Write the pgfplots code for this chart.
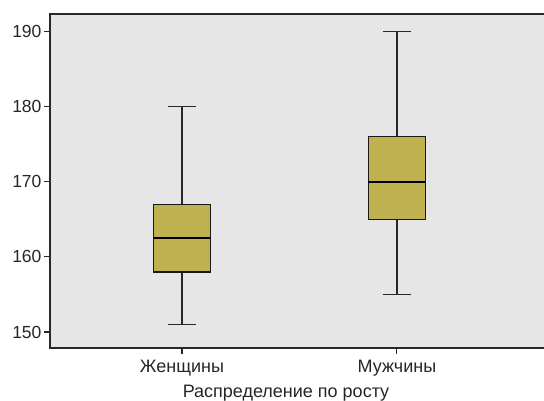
\documentclass[border=0pt]{standalone}
\usepackage{pgfplots}
\pgfplotsset{compat=1.18}
\usepgfplotslibrary{statistics}
\usepackage{fontspec}
\setmainfont{Liberation Sans}
\definecolor{boxfill}{RGB}{191,177,80}
\definecolor{panel}{RGB}{230,230,230}
\definecolor{lineclr}{RGB}{40,40,40}
\begin{document}
\begin{tikzpicture}
% frame of the page: the panel runs off the right edge
\clip (-50pt,-53pt) rectangle (494pt,348pt);
\begin{axis}[
  at={(0pt,0pt)}, anchor=south west,
  scale only axis, width=500pt, height=334pt,
  xmin=0.386, xmax=2.712,
  ymin=147.87, ymax=192.36,
  axis background/.style={fill=panel},
  axis line style={draw=lineclr, line width=1.3pt},
  xtick={1,2}, xticklabels={Женщины,Мужчины},
  ytick={150,160,170,180,190},
  xtick pos=left, ytick pos=left,
  tick align=outside, major tick length=6pt,
  every tick/.style={lineclr, line width=1.1pt},
  /pgf/number format/assume math mode=true,
  yticklabel style={font=\fontsize{17.5}{20}\selectfont, text=black!85, xshift=1pt},
  xticklabel style={font=\fontsize{18}{21}\selectfont, text=black!85, yshift=-3pt},
  xlabel={Распределение по росту},
  xlabel style={font=\fontsize{18}{21}\selectfont, text=black!85, yshift=-2pt, xshift=-14pt},
  boxplot/draw direction=y,
  boxplot/every median/.style={line width=2.2pt, draw=black},
  boxplot/every box/.style={fill=boxfill, draw=black!90, line width=1.2pt},
  boxplot/every whisker/.style={draw=lineclr, line width=1.2pt},
]
\addplot[boxplot prepared={draw position=1,
    lower whisker=151, lower quartile=158, median=162.5,
    upper quartile=167, upper whisker=180,
    box extend=0.265, whisker extend=0.13}] coordinates {};
\addplot[boxplot prepared={draw position=2,
    lower whisker=155, lower quartile=165, median=170,
    upper quartile=176, upper whisker=190,
    box extend=0.265, whisker extend=0.13}] coordinates {};
\end{axis}
\end{tikzpicture}
\end{document}
